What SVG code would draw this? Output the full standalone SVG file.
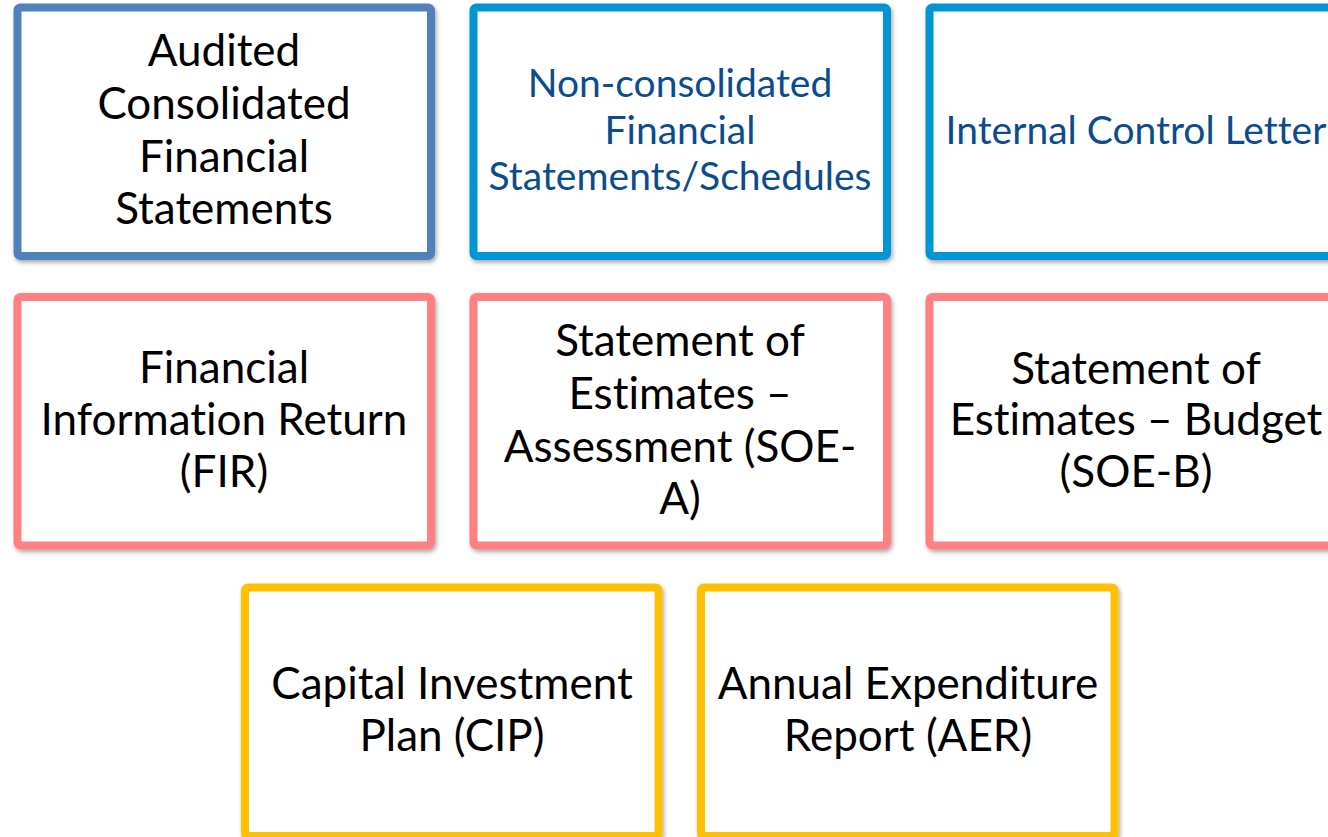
<svg xmlns="http://www.w3.org/2000/svg" width="1328" height="837" viewBox="0 0 1328 837">
<style>
.box{fill:#fff;stroke-width:8;filter:url(#sh)}
.b1{stroke:#4F81BD}
.b2{stroke:#0096D6}
.b3{stroke:#FF8080}
.b4{stroke:#FFC000}
text{font-family:Lato,"Liberation Sans",sans-serif;text-anchor:middle;font-variant-ligatures:none}
.t{font-size:44px;fill:#000}
.tb{font-size:39px;fill:#0B4C8C}
</style>
<defs>
<filter id="sh" x="-5%" y="-5%" width="110%" height="110%">
<feDropShadow dx="1.5" dy="2.5" stdDeviation="2" flood-color="#000" flood-opacity="0.35"/>
</filter>
</defs>
<rect width="1328" height="837" fill="#fff"/>
<g id="connectors"></g>
<g id="n1">
<rect class="box b1" x="17.5" y="7.5" width="413.5" height="248.5" rx="3"/>
<text class="t" x="224" y="66">Audited</text>
<text class="t" x="224" y="118.5">Consolidated</text>
<text class="t" x="224" y="171.5">Financial</text>
<text class="t" x="224" y="224">Statements</text>
</g>
<g id="n2">
<rect class="box b2" x="473.5" y="7.5" width="413.5" height="248.5" rx="3"/>
<text class="tb" x="680" y="97">Non-consolidated</text>
<text class="tb" x="680" y="144">Financial</text>
<text class="tb" x="680" y="190">Statements/Schedules</text>
</g>
<g id="n3">
<rect class="box b2" x="929.5" y="7.5" width="413.5" height="248.5" rx="3"/>
<text class="tb" x="1136" y="143.5">Internal Control Letter</text>
</g>
<g id="n4">
<rect class="box b3" x="17.5" y="297" width="413.5" height="248.5" rx="3"/>
<text class="t" x="224" y="383">Financial</text>
<text class="t" x="224" y="435">Information Return</text>
<text class="t" x="224" y="487">(FIR)</text>
</g>
<g id="n5">
<rect class="box b3" x="473.5" y="297" width="413.5" height="248.5" rx="3"/>
<text class="t" x="680" y="356">Statement of</text>
<text class="t" x="680" y="408.5">Estimates –</text>
<text class="t" x="680" y="461.5">Assessment (SOE-</text>
<text class="t" x="680" y="514">A)</text>
</g>
<g id="n6">
<rect class="box b3" x="929.5" y="297" width="413.5" height="248.5" rx="3"/>
<text class="t" x="1136" y="383.5">Statement of</text>
<text class="t" x="1136" y="435">Estimates – Budget</text>
<text class="t" x="1136" y="487">(SOE-B)</text>
</g>
<g id="n7">
<rect class="box b4" x="245" y="587.5" width="413.5" height="248.5" rx="3"/>
<text class="t" x="452" y="698.5">Capital Investment</text>
<text class="t" x="452" y="751">Plan (CIP)</text>
</g>
<g id="n8">
<rect class="box b4" x="701" y="587.5" width="413.5" height="248.5" rx="3"/>
<text class="t" x="908" y="698.5">Annual Expenditure</text>
<text class="t" x="908" y="751">Report (AER)</text>
</g>
</svg>
